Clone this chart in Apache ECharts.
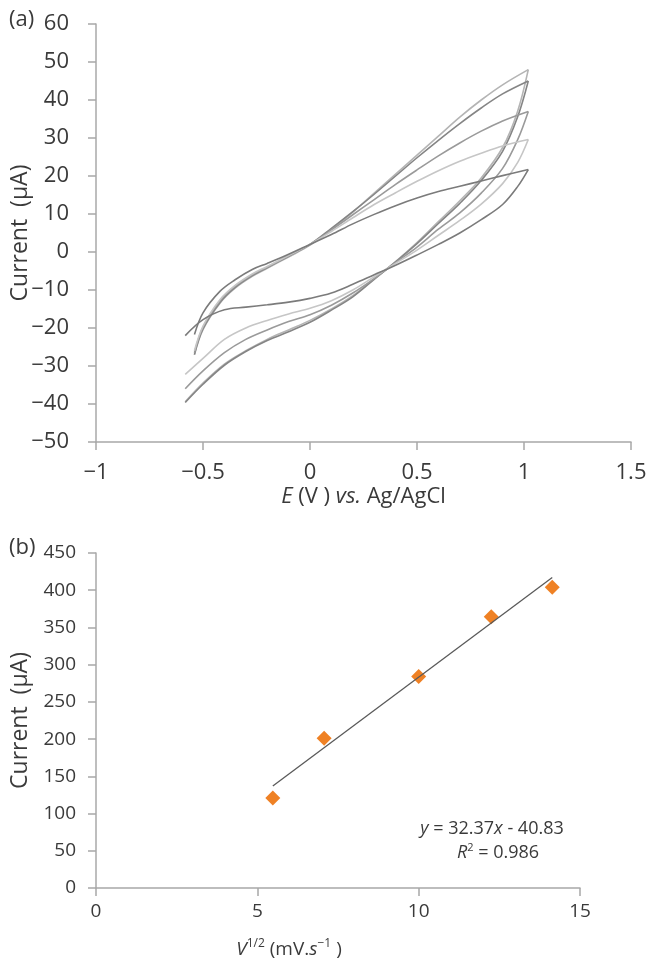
<!DOCTYPE html>
<html lang="en">
<head>
	<meta charset="UTF-8">
	<title>CV</title>
	<style type="text/css">
		html,body{
			padding: 0;
			margin: 0;
			background: #fff;
		}
		#main{
			width: 646px;
			height: 966px;
		}
	</style>
</head>
<body>
	<div id="main"></div>
<script type="text/javascript" src="https://cdn.jsdelivr.net/npm/echarts@6/dist/echarts.min.js"></script>
<script type="text/javascript">
// (a) cyclic voltammograms
// anodic (forward) branch potentials
var upE = [-0.54, -0.5, -0.42, -0.35, -0.27, -0.2, -0.1, 0, 0.1, 0.2, 0.3, 0.4, 0.5, 0.6, 0.7, 0.8, 0.9, 1.02];
// cathodic (reverse) branch potentials
var lowE = [1.02, 0.97, 0.9, 0.8, 0.7, 0.6, 0.5, 0.4, 0.3, 0.2, 0.1, 0, -0.1, -0.2, -0.3, -0.4, -0.5, -0.583];

var up1 = [-27, -20.4, -13.4, -9.5, -6.4, -4.3, -1.3, 1.8, 6, 10.5, 15.5, 20.5, 25.5, 30.5, 35.5, 40, 44, 48];
var up2 = [-27, -20.2, -13.2, -9.3, -6.2, -4.1, -1.1, 2, 6.2, 10.6, 15.2, 20, 24.8, 29.4, 33.8, 37.9, 41.6, 45];
var up3 = [-26.5, -19.8, -12.8, -9, -6, -4, -1, 2, 5.8, 9.8, 13.8, 17.8, 21.6, 25.3, 28.7, 31.8, 34.5, 37];
var up4 = [-26, -19.5, -12.5, -8.8, -5.8, -3.8, -0.9, 2, 5.4, 9, 12.5, 15.6, 18.6, 21.4, 23.9, 26, 27.9, 29.6];
var up5 = [-21.7, -16, -10.3, -7.3, -4.6, -3, -0.6, 2, 4.6, 7.4, 9.9, 12.2, 14.2, 15.9, 17.3, 18.7, 20.1, 21.7];

var low1 = [48, 37, 27.5, 19.5, 13.5, 8, 2.5, -2.5, -7, -11.5, -15, -18, -20.5, -23, -26, -29.5, -34.5, -39.4];
var low2 = [45, 35.5, 26.5, 18.8, 12.8, 7.5, 2.2, -2.6, -7.2, -11.8, -15.3, -18.5, -21, -23.3, -26.2, -29.8, -34.8, -39.6];
var low3 = [37, 29.5, 22, 15.5, 10.3, 6, 1.3, -2.8, -7, -10.8, -14, -16.5, -18.3, -20.5, -23, -26.5, -31.3, -36];
var low4 = [29.6, 23.5, 18, 12.6, 8.3, 4.4, 0.5, -3, -6.5, -10, -12.8, -14.8, -16.3, -18, -20, -23, -28, -32.2];
var low5 = [21.7, 17.2, 12.5, 8.5, 5, 2, -0.8, -3.5, -6, -8.5, -10.8, -12.2, -13.2, -13.9, -14.5, -15.2, -17.8, -22];

var cvColors = ['#b4b4b4', '#858585', '#9a9a9a', '#c6c6c6', '#7b7b7b'];

// (b) peak current vs square root of scan rate
var sqrtV = [5.48, 7.07, 10, 12.25, 14.14];
var peakI = [121, 201, 284, 364.5, 404];
// trendline ends as drawn
var trendX = [5.48, 14.14];
var trendY = [137, 417];

var font = 'Open Sans';
var txt = '#3a3a3a';
var axisGray = '#a8a8a8';

function zip(a, b){
	var out = [];
	for (var i = 0; i < a.length; i++) out.push([a[i], b[i]]);
	return out;
}
function minus(v){
	return String(v).replace('-', '\u2212');
}

var ups = [up1, up2, up3, up4, up5];
var lows = [low1, low2, low3, low4, low5];
var series = [];
for (var k = 0; k < 5; k++) {
	series.push({
		type: 'line', xAxisIndex: 0, yAxisIndex: 0, smooth: 0.35, symbol: 'none',
		lineStyle: {color: cvColors[k], width: 1.6}, data: zip(upE, ups[k])
	});
	series.push({
		type: 'line', xAxisIndex: 0, yAxisIndex: 0, smooth: 0.35, symbol: 'none',
		lineStyle: {color: cvColors[k], width: 1.6}, data: zip(lowE, lows[k])
	});
}
series.push({
	type: 'line', xAxisIndex: 1, yAxisIndex: 1, symbol: 'none',
	lineStyle: {color: '#5a5a5a', width: 1.3}, data: zip(trendX, trendY)
});
series.push({
	type: 'scatter', xAxisIndex: 1, yAxisIndex: 1, symbol: 'diamond', symbolSize: 15,
	itemStyle: {color: '#ef8124', opacity: 1}, data: zip(sqrtV, peakI)
});

function axisBase(size){
	return {
		axisLine: {onZero: false, lineStyle: {color: axisGray, width: 1.5}},
		axisTick: {length: 8, lineStyle: {color: axisGray, width: 1.5}},
		splitLine: {show: false},
		nameMoveOverlap: false,
		axisLabel: {color: txt, fontFamily: font, fontSize: size, formatter: minus}
	};
}

var xa = axisBase(22);
xa.axisLabel.margin = 20;
var ya = axisBase(22);
ya.axisLabel.margin = 27;
var xb = axisBase(19);
xb.axisLabel.margin = 14;
var yb = axisBase(19);
yb.axisLabel.margin = 20;

var myChart = echarts.init(document.getElementById('main'));
myChart.setOption({
	backgroundColor: '#fff',
	animation: false,
	grid: [
		{left: 96, top: 24, width: 535, height: 418, outerBoundsMode: 'none', containLabel: false},
		{left: 96, top: 553, width: 484, height: 335, outerBoundsMode: 'none', containLabel: false}
	],
	xAxis: [
		Object.assign(xa, {
			type: 'value', gridIndex: 0, min: -1, max: 1.5, interval: 0.5,
			name: '{i|E} (V ) {i|vs.} Ag/AgCl', nameLocation: 'middle', nameGap: 44,
			nameTextStyle: {color: txt, fontFamily: font, fontSize: 22,
				rich: {i: {fontStyle: 'italic', fontFamily: font, fontSize: 22, color: txt}}}
		}),
		Object.assign(xb, {
			type: 'value', gridIndex: 1, min: 0, max: 15, interval: 5
		})
	],
	yAxis: [
		Object.assign(ya, {
			type: 'value', gridIndex: 0, min: -50, max: 60, interval: 10,
			name: 'Current  (\u00b5A)', nameLocation: 'middle', nameGap: 64,
			nameTextStyle: {color: txt, fontFamily: font, fontSize: 23}
		}),
		Object.assign(yb, {
			type: 'value', gridIndex: 1, min: 0, max: 450, interval: 50,
			name: 'Current  (\u00b5A)', nameLocation: 'middle', nameGap: 64,
			nameTextStyle: {color: txt, fontFamily: font, fontSize: 23}
		})
	],
	graphic: [
		{type: 'text', left: 9, top: 9, style: {text: '(a)', fill: txt, font: '22px "Open Sans"'}},
		{type: 'text', left: 9, top: 537, style: {text: '(b)', fill: txt, font: '22px "Open Sans"'}},
		{type: 'text', x: 289, y: 950, style: {
			text: '{i|V}{sup|1/2} (mV.{i|s}{sup|\u22121} )', align: 'center', verticalAlign: 'middle',
			fill: txt, fontFamily: font, fontSize: 19,
			rich: {
				i: {fontStyle: 'italic', fontSize: 19, fontFamily: font, fill: txt, lineHeight: 24},
				sup: {fontSize: 12, fontFamily: font, fill: txt, verticalAlign: 'top', lineHeight: 24}
			}
		}},
		{type: 'text', x: 492, y: 829, style: {
			text: '{i|y} = 32.37{i|x} - 40.83', align: 'center', verticalAlign: 'middle',
			fill: txt, fontFamily: font, fontSize: 18,
			rich: {i: {fontStyle: 'italic', fontSize: 18, fontFamily: font, fill: txt}}
		}},
		{type: 'text', x: 498, y: 853, style: {
			text: '{i|R}{sup|2} = 0.986', align: 'center', verticalAlign: 'middle',
			fill: txt, fontFamily: font, fontSize: 18,
			rich: {
				i: {fontStyle: 'italic', fontSize: 18, fontFamily: font, fill: txt, lineHeight: 22},
				sup: {fontSize: 11, fontFamily: font, fill: txt, verticalAlign: 'top', lineHeight: 22}
			}
		}}
	],
	series: series
});
</script>
</body>
</html>
